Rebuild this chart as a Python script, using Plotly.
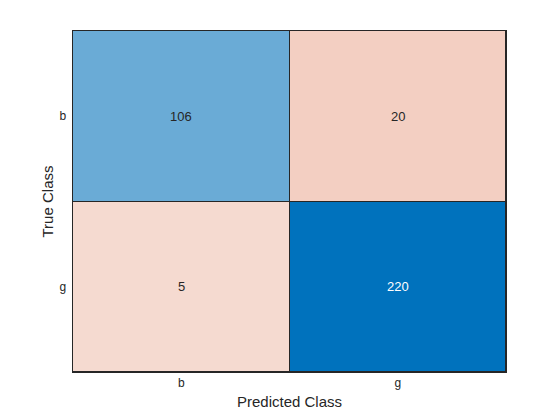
import plotly.graph_objects as go

classes = ['b', 'g']
counts = [[106, 20],
          [5, 220]]

# diagonal (correct) vs off-diagonal (wrong) use different colour maps
diag = [[counts[i][j] if i == j else None for j in range(2)] for i in range(2)]
off = [[counts[i][j] if i != j else None for j in range(2)] for i in range(2)]

fig = go.Figure()
fig.add_trace(go.Heatmap(x=classes, y=classes, z=diag,
                         colorscale=[[0, '#6AABD6'], [1, '#0072BD']],
                         zmin=106, zmax=220, showscale=False,
                         xgap=1, ygap=1, hoverinfo='skip'))
fig.add_trace(go.Heatmap(x=classes, y=classes, z=off,
                         colorscale=[[0, '#F5DAD0'], [1, '#F3CFC2']],
                         zmin=5, zmax=20, showscale=False,
                         xgap=1, ygap=1, hoverinfo='skip'))

for i, t in enumerate(classes):
    for j, p in enumerate(classes):
        v = counts[i][j]
        fig.add_annotation(x=p, y=t, text=str(v), showarrow=False,
                           font=dict(size=13, color='white' if v > 150 else '#262626'))

# page body has an 8px margin, so the figure is a bit smaller than the window
fig.update_layout(width=552, height=412,
                  margin=dict(l=65, r=54, t=23, b=37),
                  paper_bgcolor='white', plot_bgcolor='#262626',
                  font=dict(family='Liberation Sans, Arial', color='#262626', size=12))
fig.update_xaxes(title=dict(text='Predicted Class', font=dict(size=15), standoff=7),
                 showgrid=False, zeroline=False, ticks='', tickfont=dict(size=12),
                 showline=True, linecolor='#262626', linewidth=1, mirror=True)
fig.update_yaxes(title=dict(text='True Class', font=dict(size=15), standoff=2),
                 autorange='reversed', showgrid=False, zeroline=False, ticks='',
                 tickfont=dict(size=12), ticksuffix=' ',
                 showline=True, linecolor='#262626', linewidth=1, mirror=True)

fig.write_html("out.html")
